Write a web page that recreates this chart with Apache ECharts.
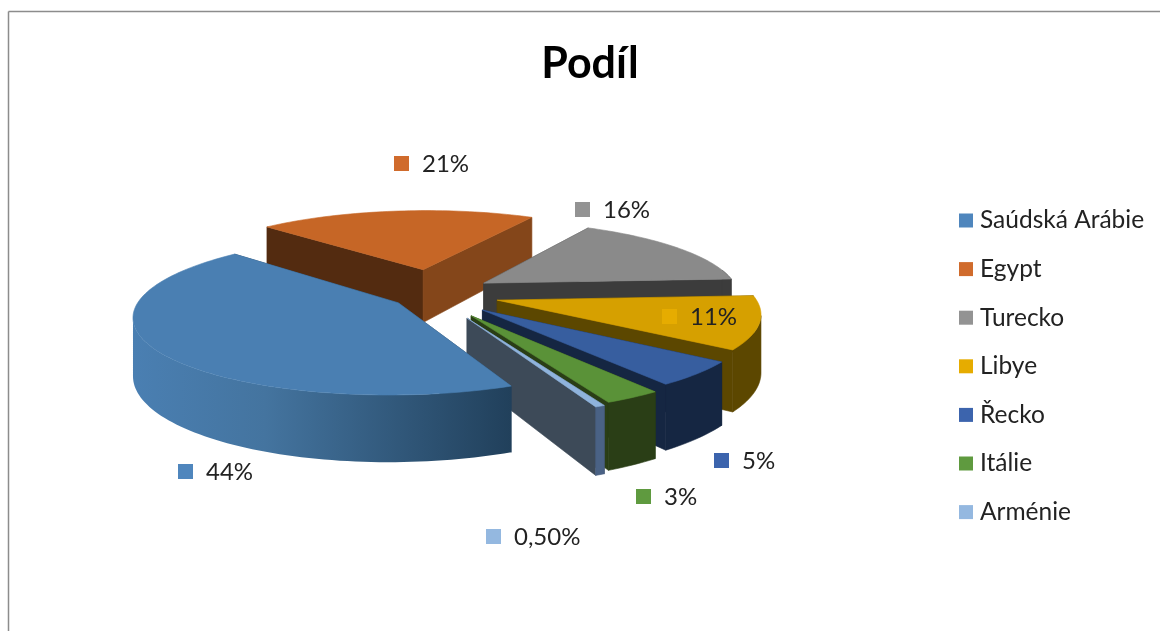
<!DOCTYPE html>
<html><head><meta charset="utf-8">
<style>html,body{margin:0;padding:0;background:#fff}#c{width:1160px;height:631px}</style>
<script src="https://cdn.jsdelivr.net/npm/echarts@6/dist/echarts.min.js"></script>
</head><body><div id="c"></div>
<script>
const categories = ['Saúdská Arábie','Egypt','Turecko','Libye','Řecko','Itálie','Arménie'];
const values = [44,21,16,11,5,3,0.5];
const valueLabels = ['44%','21%','16%','11%','5%','3%','0,50%'];
const topColors = ['#4a7fb2','#c66626','#8a8a8a','#d6a000','#375e9f','#5a9238','#8fb3dc'];
const legendColors = ['#4f86bd','#d06b2c','#939393','#e6ac00','#3c64ad','#5f9a3f','#94b8e0'];
const wallColors = [null,'#84461a','#3c3c3c','#5c4700','#152642','#2a3e16','#4a6285'];
const startCutColors = ['#22405c','#532b10','#3c3c3c','#5c4700','#152642','#2a3e16','#3d4a58'];
const endCutColors = ['#22405c','#84461a','#3c3c3c','#5c4700','#152642','#2a3e16','#3d4a58'];
const explodeX = [-50,-28,34,46,31,20,16];
const explodeY = [50,-66,-17,41,73,91,98];
const labelAnchors = [[178,471],[394,163],[575,209],[662,316],[714,460],[636,496],[486,536]];
const drawOrder = [6,0,1,2,3,4,5]; // z for each slice: blue is in front

const cx=450, cy=288, R=253, k=0.289, D=1669, H=55, startDeg=66.5;
const total = values.reduce((a,b)=>a+b,0);
const FONT = 'Lato';

function proj(x,y,h){const s=1/(1-y/D);return [cx+s*x, cy+s*(k*y+h)];}
const rad=d=>d*Math.PI/180;

function slicePieces(i){
  let a=startDeg; for(let j=0;j<i;j++) a+=values[j]/total*360;
  const b=a+values[i]/total*360, m=(a+b)/2;
  const ox=explodeX[i], oy=explodeY[i];
  const P=(deg,h)=>proj(ox+R*Math.cos(rad(deg)),oy+R*Math.sin(rad(deg)),h);
  const apex=h=>proj(ox,oy,h);
  const n=Math.max(4,Math.ceil((b-a)/1.5));
  const degs=[];for(let t=0;t<=n;t++)degs.push(a+(b-a)*t/n);
  const top=[apex(0)].concat(degs.map(d=>P(d,0)));
  const kids=[];
  const poly=(pts,fill,solid)=>({type:'polygon',shape:{points:pts},style:solid?{fill:fill,stroke:fill,lineWidth:0.6}:{fill:fill,stroke:null}});
  const cutA=[apex(0),P(a,0),P(a,H),apex(H)];
  const cutB=[apex(0),P(b,0),P(b,H),apex(H)];
  const mid=P(m,0), ap=apex(0);
  const below=(c)=>{const e=c[1];const t=(mid[0]-ap[0])/((e[0]-ap[0])||1e-6);return mid[1]>ap[1]+t*(e[1]-ap[1]);};
  const cuts=[[cutA,startCutColors[i]],[cutB,endCutColors[i]]];
  cuts.sort((p,q)=>(below(q[0])?1:0)-(below(p[0])?1:0));
  cuts.forEach(c=>kids.push(poly(c[0],c[1],true)));
  // outer wall: only the part facing the viewer, between the silhouette extremes
  let front=degs.filter(d=>Math.sin(rad(d))>-0.2);
  if(front.length>1){
    const xs=front.map(d=>P(d,0)[0]);
    const iMin=xs.indexOf(Math.min(...xs)), iMax=xs.indexOf(Math.max(...xs));
    front=front.slice(Math.min(iMin,iMax),Math.max(iMin,iMax)+1);
  }
  if(front.length>1){
    const wall=front.map(d=>P(d,0)).concat(front.slice().reverse().map(d=>P(d,H)));
    const fill=i===0?new echarts.graphic.LinearGradient(0,0,1,0,[
      {offset:0,color:'#4a7fb2'},{offset:0.35,color:'#44749f'},{offset:1,color:'#21405b'}]):wallColors[i];
    kids.push(poly(wall,fill,i!==0));
  }
  kids.push(poly(top,topColors[i],true));
  const la=labelAnchors[i];
  kids.push({type:'rect',shape:{x:la[0],y:la[1]-7,width:15,height:15},style:{fill:legendColors[i]},z2:50});
  kids.push({type:'text',x:la[0]+28,y:la[1]+1,z2:51,style:{text:valueLabels[i],fill:'#222',font:'24px '+FONT,verticalAlign:'middle'}});
  return {type:'group',children:kids};
}

const series=categories.map((name,i)=>({
  type:'custom',name:name,coordinateSystem:'none',z:2+drawOrder[i],
  itemStyle:{color:legendColors[i]},
  data:[values[i]],silent:true,animation:false,
  renderItem:()=>slicePieces(i)
}));

const chart=echarts.init(document.getElementById('c'),null,{renderer:'canvas'});
chart.setOption({
  animation:false,backgroundColor:'#fff',
  title:{text:'Podíl',left:585,top:38,textAlign:'center',textStyle:{fontFamily:FONT,fontWeight:'bold',fontSize:43,color:'#000'}},
  legend:{data:categories,orient:'vertical',left:954,top:203,icon:'rect',itemWidth:14,itemHeight:14,itemGap:23.6,
    textStyle:{fontFamily:FONT,fontSize:24.5,color:'#222',lineHeight:14,padding:[0,0,0,2]},selectedMode:false},
  graphic:[
    {type:'line',shape:{x1:8.5,y1:11.5,x2:1160,y2:11.5},style:{stroke:'#8c8c8c',lineWidth:1.5}},
    {type:'line',shape:{x1:8.5,y1:11.5,x2:8.5,y2:631},style:{stroke:'#8c8c8c',lineWidth:1.5}}
  ],
  series:series
});
</script></body></html>
